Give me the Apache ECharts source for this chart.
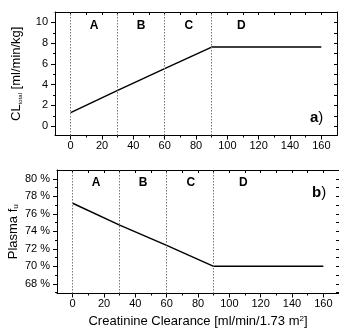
<!DOCTYPE html>
<html><head><meta charset="utf-8">
<script src="https://cdn.jsdelivr.net/npm/echarts@6/dist/echarts.min.js"></script>
<style>html,body{margin:0;padding:0;background:#fff}#c{width:339px;height:329px}</style>
</head><body><div id="c"></div>
<script>
// ---- data ----
const crcl = [0, 30, 60, 90, 160];
const clTotal = [1.3, 3.45, 5.55, 7.62, 7.62];
const fuPct = [77.2, 74.7, 72.4, 70.0, 70.0];
const regionBounds = [0, 30, 60, 90];
const regionNames = ['A', 'B', 'C', 'D'];
const regionLabelX = [15, 45, 75.5, 109];
const xTicks = [0, 20, 40, 60, 80, 100, 120, 140, 160];
const xMinorTicks = [10, 30, 50, 70, 90, 110, 130, 150];
const yTicksA = [0, 2, 4, 6, 8, 10];
const yMinorA = [1, 3, 5, 7, 9];
const yTicksB = [68, 70, 72, 74, 76, 78, 80];
const yMinorB = [67, 69, 71, 73, 75, 77, 79];

const FONT = '"Liberation Sans", Arial, sans-serif';
const lblStyle = {color: '#000', fontFamily: FONT, fontSize: 11};

function xAxes(g, withName) {
  const base = {type: 'value', gridIndex: g, min: -10, max: 170, splitLine: {show: false}};
  return [
    Object.assign({}, base, {
      position: 'bottom',
      axisLine: {show: true, onZero: false, lineStyle: {color: '#000', width: 1}},
      axisTick: {show: true, inside: false, length: 4, customValues: xTicks, lineStyle: {color: '#000'}},
      axisLabel: Object.assign({show: true, margin: 5, customValues: xTicks}, lblStyle),
      name: withName ? '{n|Creatinine Clearance [ml/min/1.73 m}{p|2}{n|]}' : '',
      nameLocation: 'middle', nameGap: 21, nameMoveOverlap: false,
      nameTextStyle: {rich: {
        n: {fontFamily: FONT, fontSize: 13, color: '#000'},
        p: {fontFamily: FONT, fontSize: 8, color: '#000', verticalAlign: 'top', padding: [0, 0, 6, 0]}
      }}
    }),
    Object.assign({}, base, {
      position: 'bottom',
      axisLine: {show: false, onZero: false},
      axisTick: {show: true, inside: false, length: 2, customValues: xMinorTicks, lineStyle: {color: '#000'}},
      axisLabel: {show: false}
    }),
    Object.assign({}, base, {
      position: 'top',
      axisLine: {show: true, onZero: false, lineStyle: {color: '#000', width: 1}},
      axisTick: {show: true, inside: true, length: 3, customValues: xTicks.concat(xMinorTicks), lineStyle: {color: '#000'}},
      axisLabel: {show: false}
    })
  ];
}

function yAxes(g, min, max, ticks, minor, fmt, name, rich, gap) {
  const base = {type: 'value', gridIndex: g, min: min, max: max, splitLine: {show: false}};
  return [
    Object.assign({}, base, {
      position: 'left',
      axisLine: {show: true, onZero: false, lineStyle: {color: '#000', width: 1}},
      axisTick: {show: true, inside: false, length: 4, customValues: ticks, lineStyle: {color: '#000'}},
      axisLabel: Object.assign({show: true, margin: 7, customValues: ticks, formatter: fmt}, lblStyle),
      name: name, nameLocation: 'middle', nameGap: gap, nameMoveOverlap: false,
      nameTextStyle: {rich: rich}
    }),
    Object.assign({}, base, {
      position: 'left',
      axisLine: {show: false, onZero: false},
      axisTick: {show: true, inside: false, length: 2, customValues: minor, lineStyle: {color: '#000'}},
      axisLabel: {show: false}
    }),
    Object.assign({}, base, {
      position: 'right',
      axisLine: {show: true, onZero: false, lineStyle: {color: '#000', width: 1}},
      axisTick: {show: true, inside: true, length: 3, customValues: ticks.concat(minor), lineStyle: {color: '#000'}},
      axisLabel: {show: false}
    })
  ];
}

function regionMarks(yVal) {
  return regionNames.map((n, i) => ({
    coord: [regionLabelX[i], yVal], value: n, symbol: 'circle', symbolSize: 0,
    label: {show: true, position: 'inside', formatter: n, fontFamily: FONT, fontWeight: 'bold', fontSize: 12, color: '#000'}
  }));
}

function lineSeries(xi, yi, vals, labelY) {
  return {
    type: 'line', xAxisIndex: xi, yAxisIndex: yi,
    data: crcl.map((x, i) => [x, vals[i]]),
    showSymbol: false, symbol: 'none', silent: true, animation: false,
    lineStyle: {color: '#000', width: 1.5},
    markLine: {
      silent: true, symbol: ['none', 'none'], animation: false,
      label: {show: false},
      lineStyle: {color: '#777', type: [1.5, 1.5], width: 1},
      data: regionBounds.map(v => ({xAxis: v}))
    },
    markPoint: {silent: true, animation: false, data: regionMarks(labelY)}
  };
}

const chart = echarts.init(document.getElementById('c'), null, {renderer: 'canvas'});
chart.setOption({
  animation: false,
  backgroundColor: '#fff',
  grid: [
    {left: 55, top: 12, width: 282, height: 123.5, containLabel: false, outerBoundsMode: 'none'},
    {left: 57, top: 170, width: 282, height: 123.5, containLabel: false, outerBoundsMode: 'none'}
  ],
  xAxis: xAxes(0, false).concat(xAxes(1, true)),
  yAxis: yAxes(0, -0.9, 11, yTicksA, yMinorA, v => String(v),
      '{n|CL}{s|total}{n| [ml/min/kg]}',
      {n: {fontFamily: FONT, fontSize: 13, color: '#000'},
       s: {fontFamily: FONT, fontSize: 6, color: '#000', verticalAlign: 'bottom', padding: [6, 0, 0, 0]}}, 32)
    .concat(yAxes(1, 66.9, 81, yTicksB, yMinorB, v => v + ' %',
      '{n|Plasma f}{s|u}',
      {n: {fontFamily: FONT, fontSize: 13, color: '#000'},
       s: {fontFamily: FONT, fontSize: 8, color: '#000', verticalAlign: 'bottom', padding: [6, 0, 0, 0]}}, 37)),
  graphic: [
    {type: 'text', left: 310, top: 110, style: {text: '{b|a}{n|)}', rich: {b: {fontFamily: FONT, fontWeight: 'bold', fontSize: 15, fill: '#000'}, n: {fontFamily: FONT, fontSize: 15, fill: '#000'}}}},
    {type: 'text', left: 312, top: 185, style: {text: '{b|b}{n|)}', rich: {b: {fontFamily: FONT, fontWeight: 'bold', fontSize: 15, fill: '#000'}, n: {fontFamily: FONT, fontSize: 15, fill: '#000'}}}}
  ],
  series: [
    lineSeries(0, 0, clTotal, 9.65),
    lineSeries(3, 3, fuPct, 79.6)
  ]
});
</script>
</body></html>
